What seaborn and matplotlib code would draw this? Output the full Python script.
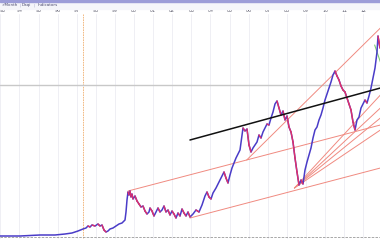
import numpy as np
import pandas as pd
import matplotlib
matplotlib.use("Agg")
import matplotlib.pyplot as plt
import seaborn as sns

# ---- data (x in years, value in chart units) ----
year_labels = ["93","94","95","96","97","98","99","00","01","02","03",
               "04","05","06","07","08","09","10","11","12"]
label_years = list(range(1993, 2013))

price_x_px = [0,20,40,55,65,72,78,83,86,88,90,92,95,98,100,102,104,106,108,110,113,116,119,122,125,126,127,128,129,130,131,132,133,135,137,139,141,143,145,147,149,150,152,154,156,158,160,162,164,166,168,170,172,174,176,178,180,182,184,186,188,190,193,196,199,202,205,207,209,211,213,216,218,220,222,224,226,228,230,232,234,236,238,240,242,243,245,247,249,251,253,255,257,259,261,263,265,267,269,271,273,275,277,279,281,283,285,287,289,291,293,295,297,299,301,303,305,307,309,311,313,315,317,319,321,323,325,327,329,331,333,335,337,339,341,343,345,347,349,351,353,355,357,359,361,363,365,367,369,371,373,375,377,378,379,380]
price_y_px = [236,236,235,235,234,233,231,229,228,226,227,225,226,224,226,225,230,232,231,229,228,226,224,223,220,212,200,192,195,191,197,194,199,196,201,204,207,206,211,214,212,208,211,216,212,208,212,210,206,212,210,215,211,214,218,213,216,209,213,216,212,217,214,210,212,205,196,192,197,199,193,188,184,180,176,172,178,183,175,168,163,158,154,150,135,128,131,129,145,152,148,145,142,135,138,132,128,124,125,118,112,104,101,108,115,111,120,116,127,132,142,158,172,185,180,184,170,162,155,148,138,130,127,120,115,108,100,94,88,82,75,71,76,80,86,90,92,98,104,110,122,130,120,117,108,104,100,103,96,88,78,68,52,36,42,48]

# convert picture readings to years / values
years = [2000 + (x - 134) / 19.1 for x in price_x_px]
price = [240 - y for y in price_y_px]

# trend lines: (year0, value0, year1, value1)
black_line = [(2002.93, 100), (2012.9, 152)]
red_lines = [
    [(1999.69, 49), (2012.9, 115)],
    [(2002.93, 22), (2012.9, 72)],
    [(2005.9, 80), (2012.9, 212)],
    [(2008.4, 52), (2012.9, 145)],
    [(2008.4, 52), (2012.9, 132)],
    [(2008.4, 52), (2012.9, 122)],
    [(2008.4, 52), (2012.9, 110)],
]
green_line = [(2012.6, 195), (2012.9, 178)]
hline_value = 155
vline_year = 1997.33

# ---- figure ----
sns.set_theme(style="white")
fig = plt.figure(figsize=(3.8, 2.4), dpi=100)
ax = fig.add_axes([0, 0, 1, 1])
ax.set_xlim(2000 - 134 / 19.1, 2000 + (380 - 134) / 19.1)
ax.set_ylim(0, 240)
ax.set_axis_off()

# grid lines
for yr in label_years:
    ax.plot([yr, yr], [2, 226], color="#ececf2", lw=0.6, zorder=0)
ax.plot([vline_year, vline_year], [2, 226], color="#f0b070", lw=0.6,
        ls=(0, (2, 1)), zorder=1)
ax.axhline(hline_value, color="#c8c8c8", lw=1.0, zorder=1)
ax.plot(ax.get_xlim(), [3, 3], color="#9a9a9a", lw=0.6, ls=(0, (3, 1.5)), zorder=1)

# trend lines
for ln in red_lines:
    (x0, y0), (x1, y1) = ln
    ax.plot([x0, x1], [y0, y1], color="#f08a80", lw=0.7, zorder=2)
(x0, y0), (x1, y1) = green_line
ax.plot([x0, x1], [y0, y1], color="#7ccf70", lw=0.8, zorder=2)

# price line: base purple-blue, red on falling segments
df = pd.DataFrame({"year": years, "price": price})
sns.lineplot(data=df, x="year", y="price", ax=ax, color="#4a3cc8", lw=1.1,
             estimator=None, sort=False, zorder=3)
rows = []
seg = 0
for i in range(1, len(years)):
    if price[i] < price[i - 1]:
        rows.append((years[i - 1], price[i - 1], seg))
        rows.append((years[i], price[i], seg))
        seg += 1
dfr = pd.DataFrame(rows, columns=["year", "price", "seg"])
sns.lineplot(data=dfr, x="year", y="price", units="seg", ax=ax,
             color="#e0306a", lw=1.0, estimator=None, sort=False, zorder=4)

(x0, y0), (x1, y1) = black_line
ax.plot([x0, x1], [y0, y1], color="#111111", lw=1.1, zorder=5)

ax.set_xlabel("")
ax.set_ylabel("")

# header: top border, toolbar, year labels
fig.patches.append(plt.Rectangle((0, 1 - 2 / 240), 1, 2 / 240, transform=fig.transFigure,
                                 color="#9c9cd8", zorder=10))
fig.patches.append(plt.Rectangle((0, 1 - 8.5 / 240), 1, 6.5 / 240, transform=fig.transFigure,
                                 color="#f5f5fa", zorder=9))
for xx, txt in [(1, "✓Month"), (22, "Daqi"), (38, "Indicators")]:
    fig.text(xx / 380, 1 - 5.3 / 240, txt, fontsize=3.0, color="#4a4a70",
             va="center", zorder=12)
for xx in [19, 34]:
    fig.text(xx / 380, 1 - 5.3 / 240, "|", fontsize=3.0, color="#aaaacc",
             va="center", zorder=12)
for yr, lab in zip(label_years, year_labels):
    ha = "left" if yr == label_years[0] else "center"
    xx = ax.get_xlim()[0] if yr == label_years[0] else yr
    ax.text(xx, 240 - 10.5, lab, fontsize=3.4, color="#555566", ha=ha, va="center")

fig.savefig("out.png", dpi=100)
